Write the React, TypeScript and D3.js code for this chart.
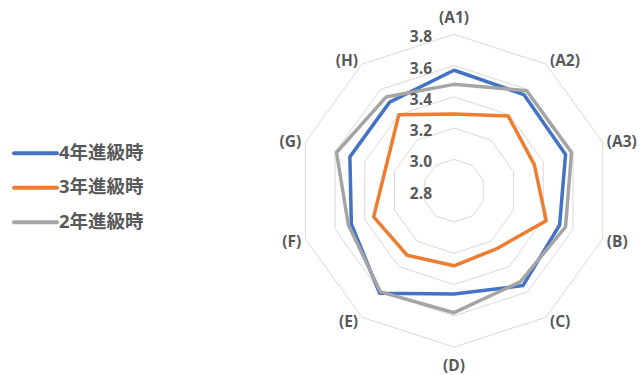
import React from "react";
import * as d3 from "d3";

const categories = ["(A1)", "(A2)", "(A3)", "(B)", "(C)", "(D)", "(E)", "(F)", "(G)", "(H)"];
const seriesNames = ["4年進級時", "3年進級時", "2年進級時"];
const year4 = [3.57, 3.56, 3.55, 3.51, 3.55, 3.46, 3.61, 3.49, 3.50, 3.50];
const year3 = [3.29, 3.39, 3.34, 3.42, 3.26, 3.28, 3.31, 3.34, 3.26, 3.40];
const year2 = [3.48, 3.59, 3.59, 3.55, 3.52, 3.58, 3.60, 3.51, 3.59, 3.54];
const ticks = [2.8, 3.0, 3.2, 3.4, 3.6, 3.8];
const colors = ["#4472C4", "#ED7D31", "#A5A5A5"];

export default function App() {
  const W = 643, H = 375;
  const cx = 454, cy = 190.7, R = 156.4;
  const r = d3.scaleLinear().domain([2.8, 3.8]).range([0, R]);
  const n = categories.length;
  const ang = (i: number) => (i * 2 * Math.PI) / n;
  const pt = (i: number, rad: number): [number, number] => [
    cx + rad * Math.sin(ang(i)),
    cy - rad * Math.cos(ang(i)),
  ];
  const line = d3.line().curve(d3.curveLinearClosed);
  const data = [year4, year3, year2];
  const drawOrder = [1, 0, 2];
  const font = "'Open Sans', 'Noto Sans CJK JP', sans-serif";
  const textColor = "#595959";

  return (
    <svg width={W} height={H} style={{ position: "absolute", left: 0, top: 0, background: "#fff" }}>
      {ticks.slice(1).map((t) => (
        <path
          key={t}
          d={line(categories.map((_, i) => pt(i, r(t)))) || ""}
          fill="none"
          stroke="#D9D9D9"
          strokeWidth={1}
        />
      ))}
      {drawOrder.map((k) => (
        <path
          key={k}
          d={line(data[k].map((v, i) => pt(i, r(v)))) || ""}
          fill="none"
          stroke={colors[k]}
          strokeWidth={3.5}
          strokeLinejoin="round"
        />
      ))}
      {ticks.map((t) => (
        <text
          key={t}
          x={cx - 22}
          y={cy - r(t) + 2}
          textAnchor="end"
          dominantBaseline="central"
          fontFamily={font}
          fontWeight="bold"
          fontSize={15.5}
          fill={textColor}
        >
          {t.toFixed(1)}
        </text>
      ))}
      {categories.map((c, i) => {
        const [vx, vy] = pt(i, R);
        const s = Math.sin(ang(i));
        const co = Math.cos(ang(i));
        let x = vx + s * 5;
        let y = vy - co * 5;
        let anchor = "middle";
        if (s > 0.01) {
          anchor = "start";
          x = vx + 4;
        } else if (s < -0.01) {
          anchor = "end";
          x = vx - 4;
        } else {
          y = vy - co * 17.5;
        }
        return (
          <text
            key={c}
            x={x}
            y={y}
            textAnchor={anchor}
            dominantBaseline="central"
            fontFamily={font}
            fontWeight="bold"
            fontSize={15.5}
            fill={textColor}
          >
            {c}
          </text>
        );
      })}
      {seriesNames.map((s, k) => {
        const y = 153.3 + k * 34.5;
        return (
          <g key={s}>
            <line x1={14} x2={57} y1={y} y2={y} stroke={colors[k]} strokeWidth={4} strokeLinecap="round" />
            <text
              x={59}
              y={y - 2}
              dominantBaseline="central"
              fontFamily={font}
              fontWeight="bold"
              fontSize={18.5}
              fill={textColor}
            >
              {s}
            </text>
          </g>
        );
      })}
    </svg>
  );
}
